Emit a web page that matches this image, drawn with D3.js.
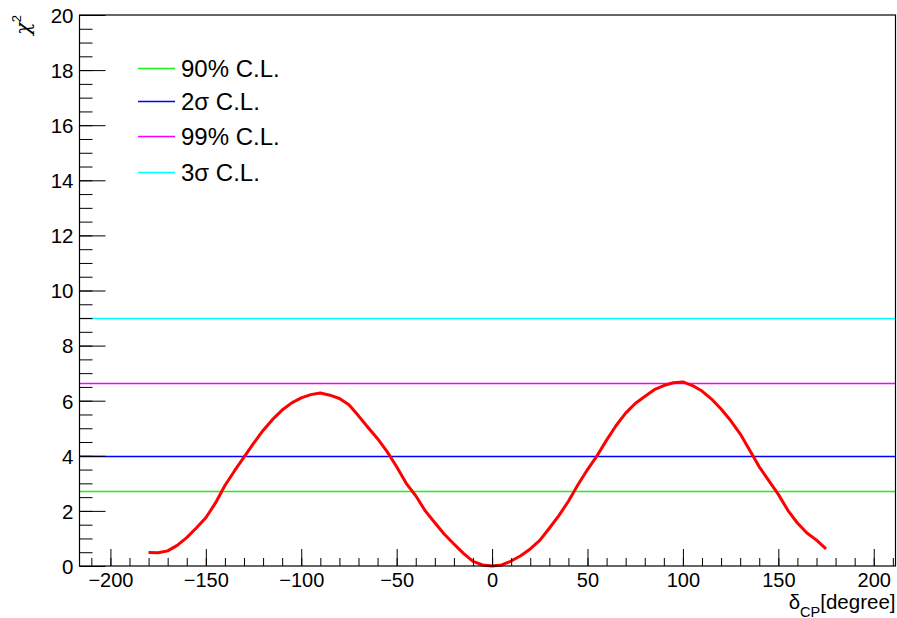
<!DOCTYPE html>
<html lang="en">
<head>
    <meta charset="UTF-8">
    <title>chi2 vs deltaCP</title>
    <script src="https://d3js.org/d3.v7.min.js"></script>
    <style>
        body { margin: 0; background: #fff; }
        svg { display: block; }
        text { font-family: "Liberation Sans", Arial, Helvetica, sans-serif; fill: #000; }
    </style>
</head>
<body>
<div id="chart"></div>
<script>
    // delta_CP scan (degrees) and chi2 values
    const deltaCP = [-180, -175, -170, -165, -160, -155, -150, -145, -140, -135,
        -130, -125, -120, -115, -110, -105, -100, -95, -90, -85,
        -80, -75, -70, -65, -60, -55, -50, -45, -40, -35,
        -30, -25, -20, -15, -10, -5, 0, 5, 10, 15,
        20, 25, 30, 35, 40, 45, 50, 55, 60, 65,
        70, 75, 80, 85, 90, 95, 100, 105, 110, 115,
        120, 125, 130, 135, 140, 145, 150, 155, 160, 165,
        170, 175];
    const chi2 = [0.49, 0.48, 0.55, 0.75, 1.03, 1.38, 1.75, 2.28, 2.92, 3.45,
        3.95, 4.45, 4.92, 5.32, 5.66, 5.92, 6.10, 6.22, 6.28, 6.20,
        6.08, 5.85, 5.45, 5.03, 4.62, 4.15, 3.60, 3.00, 2.55, 2.00,
        1.57, 1.15, 0.80, 0.46, 0.17, 0.04, 0.00, 0.04, 0.18, 0.37,
        0.62, 0.93, 1.37, 1.83, 2.35, 2.95, 3.50, 4.00, 4.57, 5.10,
        5.55, 5.90, 6.15, 6.40, 6.55, 6.65, 6.68, 6.55, 6.35, 6.06,
        5.70, 5.28, 4.80, 4.20, 3.60, 3.10, 2.60, 2.02, 1.56, 1.20,
        0.94, 0.62];

    // confidence level lines
    const clLabels = ["90% C.L.", "2\u03c3 C.L.", "99% C.L.", "3\u03c3 C.L."];
    const clValues = [2.71, 4.0, 6.63, 9.0];
    const clColors = ["#1ef01e", "#0000ff", "#ff00ff", "#00ffff"];

    const xDomain = [-216.2, 211.4];
    const yDomain = [0, 20];
    const xMajor = d3.range(-200, 201, 50);
    const xMinor = d3.range(-210, 211, 10);
    const yMajor = d3.range(0, 21, 2);
    const yMinor = d3.range(0, 20.01, 0.5);

    const width = 897, height = 618;
    const margin = {left: 79.5, right: 1.5, top: 15, bottom: 52};

    const svg = d3.select("#chart").append("svg")
        .attr("width", width)
        .attr("height", height);

    const x = d3.scaleLinear().domain(xDomain).range([margin.left, width - margin.right]);
    const y = d3.scaleLinear().domain(yDomain).range([height - margin.bottom, margin.top]);

    // horizontal C.L. lines (snapped to pixel rows)
    const snap = v => Math.round(v) + 0.5;
    svg.append("g")
        .selectAll("line")
        .data(clValues)
        .enter().append("line")
        .attr("x1", x.range()[0])
        .attr("x2", x.range()[1])
        .attr("y1", d => snap(y(d)))
        .attr("y2", d => snap(y(d)))
        .attr("stroke", (d, i) => clColors[i])
        .attr("stroke-width", 1.5);

    // chi2 curve
    const pts = deltaCP.map((d, i) => [d, chi2[i]]);
    svg.append("path")
        .datum(pts)
        .attr("fill", "none")
        .attr("stroke", "#ff0000")
        .attr("stroke-width", 3)
        .attr("stroke-linejoin", "round")
        .attr("d", d3.line().x(d => x(d[0])).y(d => y(d[1])));

    // x axis: minor + major ticks
    const xAxisG = svg.append("g").attr("transform", `translate(0,${y(0)})`);
    xAxisG.append("g")
        .call(d3.axisBottom(x).tickValues(xMinor).tickSize(-8).tickFormat(""))
        .call(g => g.select(".domain").remove());
    xAxisG.append("g")
        .call(d3.axisBottom(x).tickValues(xMajor).tickSize(-17))
        .call(g => g.select(".domain").remove())
        .call(g => g.selectAll("text")
            .attr("font-size", 20)
            .attr("dy", null)
            .attr("y", 21)
            .style("font-family", "'Liberation Sans', Arial, sans-serif"));

    // y axis: minor + major ticks
    const yAxisG = svg.append("g").attr("transform", `translate(${x.range()[0]},0)`);
    yAxisG.append("g")
        .call(d3.axisLeft(y).tickValues(yMinor).tickSize(-13).tickFormat(""))
        .call(g => g.select(".domain").remove());
    yAxisG.append("g")
        .call(d3.axisLeft(y).tickValues(yMajor).tickSize(-26).tickFormat(d3.format("d")))
        .call(g => g.select(".domain").remove())
        .call(g => g.selectAll("text")
            .attr("font-size", 20.5)
            .attr("x", -6)
            .attr("dy", "0.36em")
            .style("font-family", "'Liberation Sans', Arial, sans-serif"));

    svg.selectAll(".tick line").attr("stroke", "#000").attr("stroke-width", 1);

    // frame
    svg.append("rect")
        .attr("x", x.range()[0])
        .attr("y", y.range()[1])
        .attr("width", x.range()[1] - x.range()[0])
        .attr("height", y.range()[0] - y.range()[1])
        .attr("fill", "none")
        .attr("stroke", "#000")
        .attr("stroke-width", 1.2);

    // axis titles
    const xt = svg.append("text")
        .attr("x", x.range()[1])
        .attr("y", 609)
        .attr("text-anchor", "end")
        .attr("font-size", 20.5);
    xt.append("tspan").text("\u03b4");
    xt.append("tspan").attr("font-size", 14.5).attr("dy", 7.5).text("CP");
    xt.append("tspan").attr("dy", -7.5).text("[degree]");

    const yt = svg.append("text")
        .attr("transform", `translate(30,${y.range()[1]}) rotate(-90)`)
        .attr("text-anchor", "end")
        .attr("font-size", 21);
    yt.append("tspan").style("font-family", "'DejaVu Serif', serif").style("font-style", "italic").text("\u03c7");
    yt.append("tspan").attr("font-size", 13).attr("dy", -9).text("2");

    // legend
    const legendY = [68, 101, 136, 171.5];
    const legend = svg.append("g")
        .selectAll("g")
        .data(clLabels)
        .enter().append("g")
        .attr("transform", (d, i) => `translate(138,${snap(legendY[i])})`);
    legend.append("line")
        .attr("x1", 0).attr("x2", 37)
        .attr("stroke", (d, i) => clColors[i])
        .attr("stroke-width", 1.5);
    legend.append("text")
        .attr("x", 43)
        .attr("dy", "0.36em")
        .attr("font-size", 24)
        .text(d => d);
</script>
</body>
</html>
